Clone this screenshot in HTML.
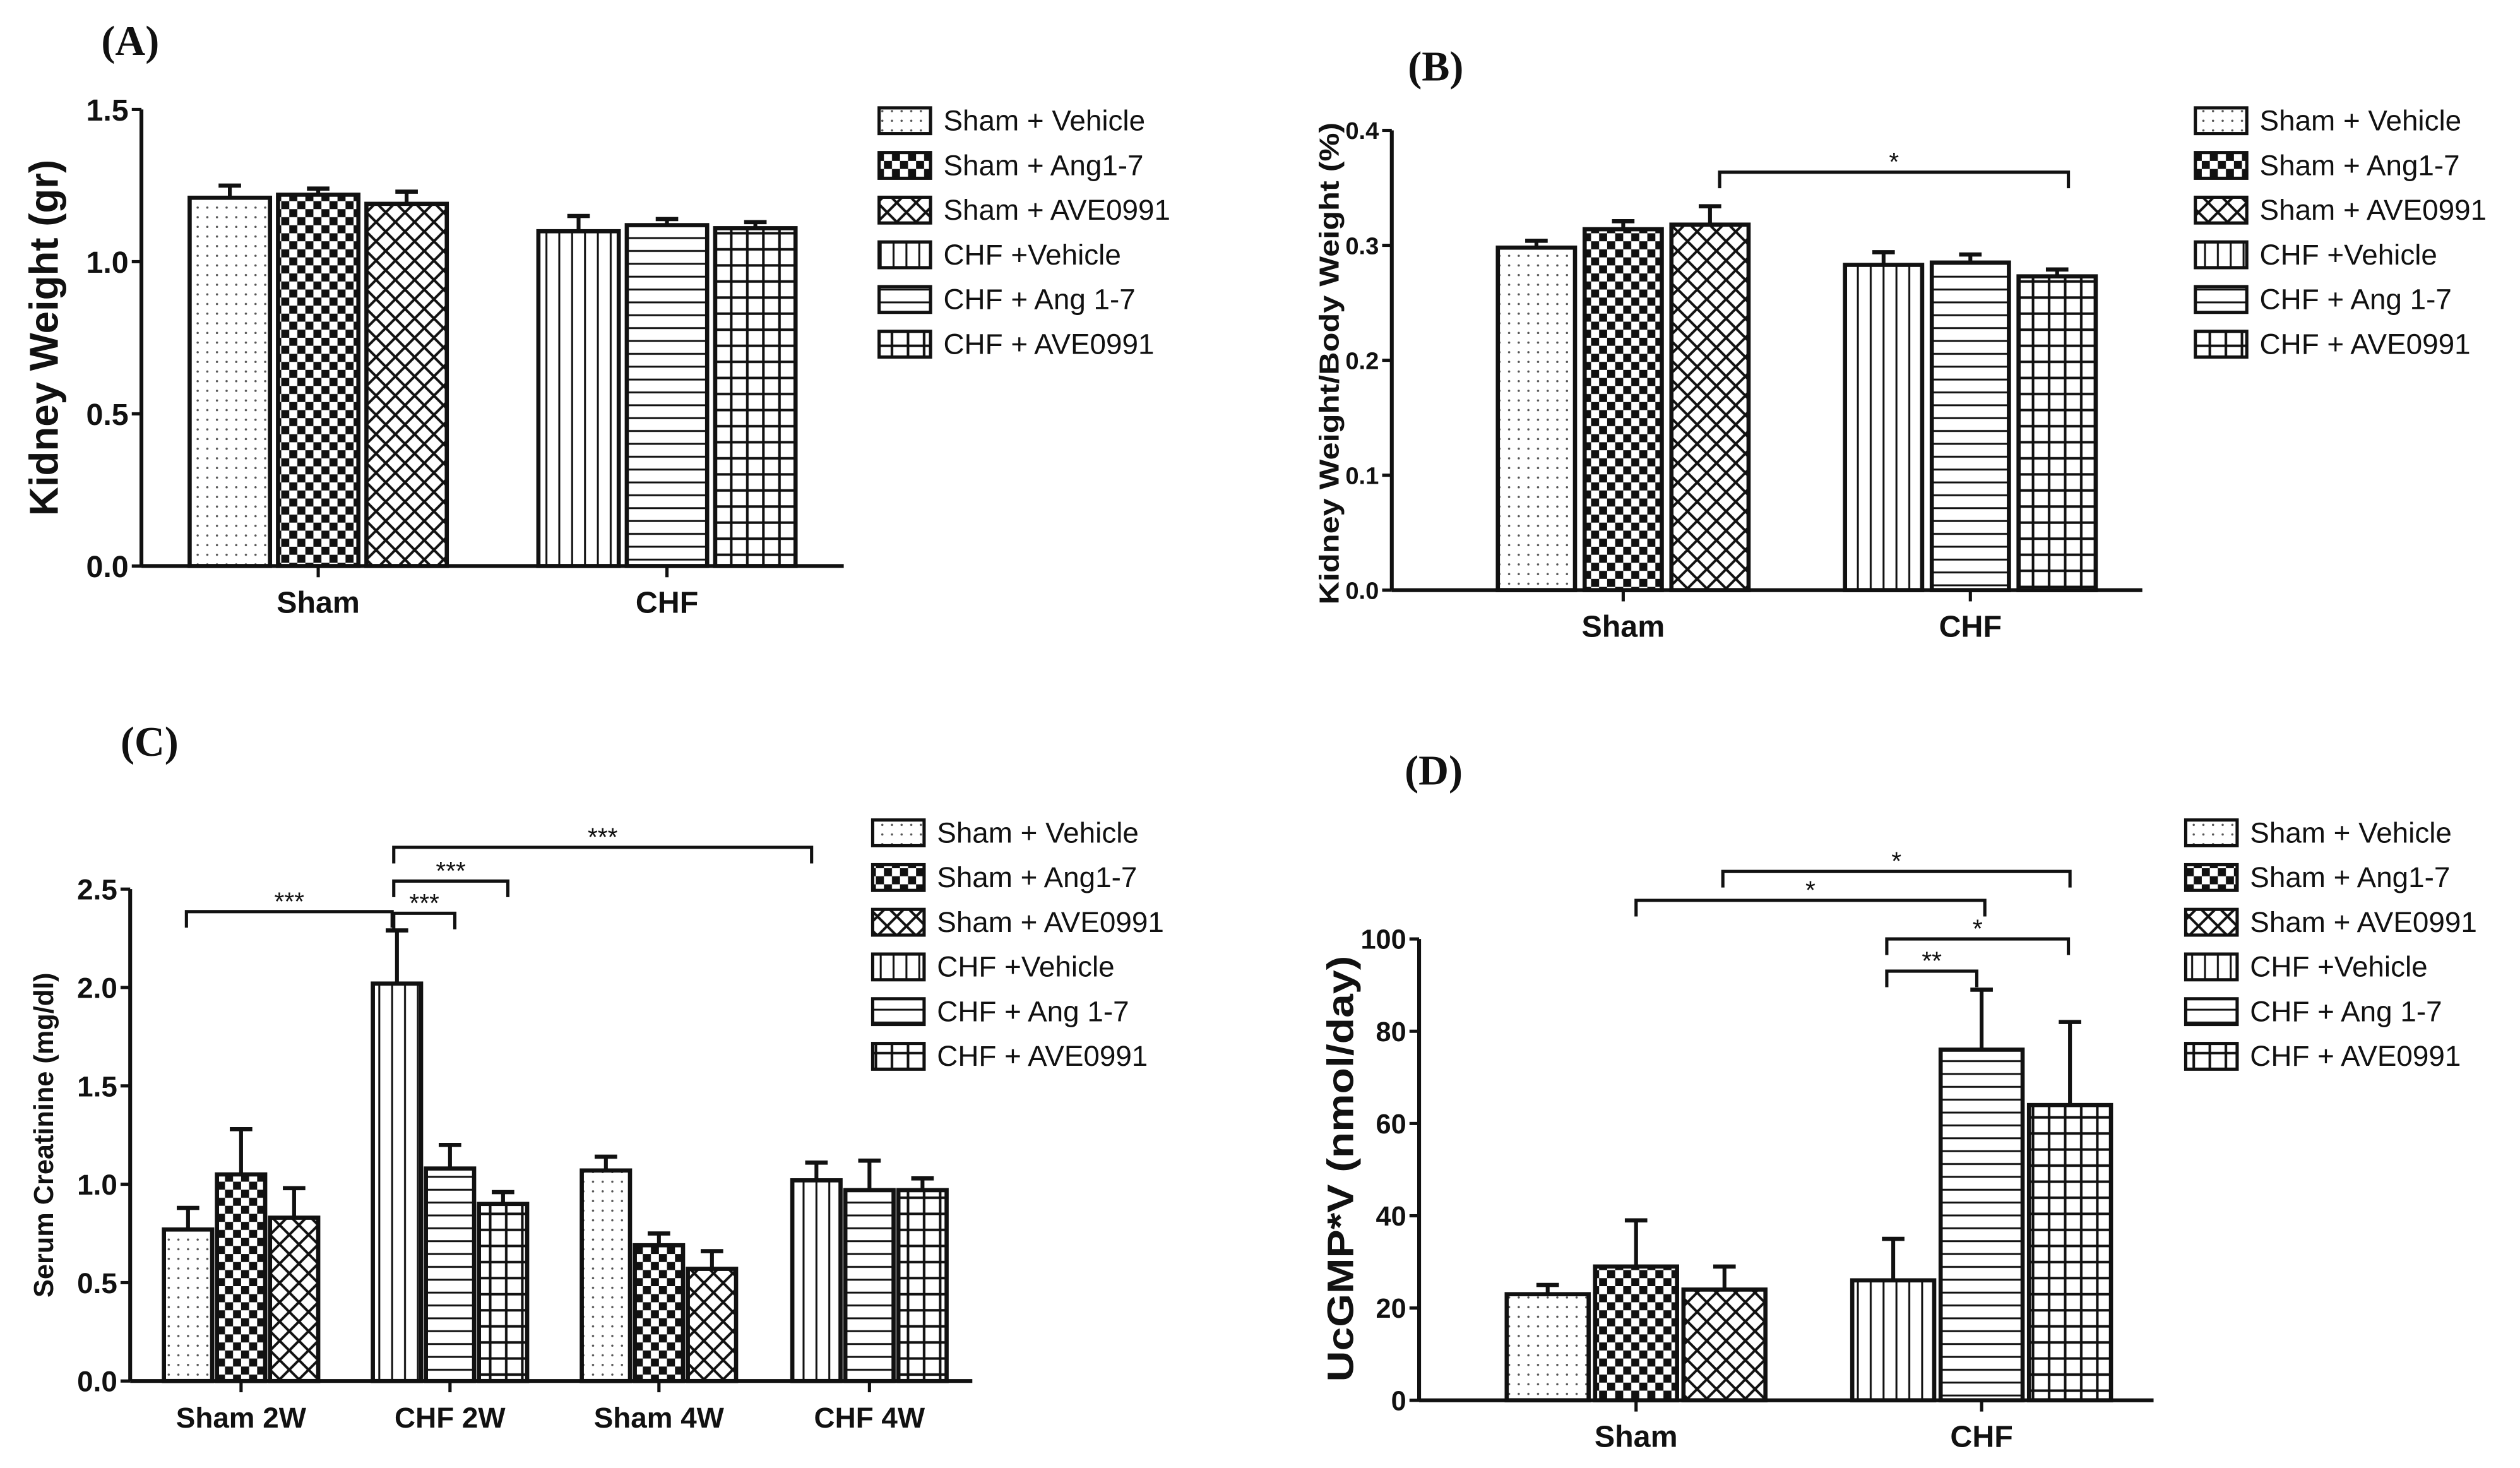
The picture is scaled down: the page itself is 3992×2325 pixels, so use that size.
<!DOCTYPE html>
<html><head><meta charset="utf-8">
<style>
html,body{margin:0;padding:0;background:#fff;}
svg{display:block;}
text{font-family:"Liberation Sans",Arial,sans-serif;fill:#111;}
.pl{font-family:"Liberation Serif",serif;font-size:26px;}
</style></head>
<body>
<svg id="fig" xmlns="http://www.w3.org/2000/svg" width="3992" height="2325" viewBox="0 0 1568 913">
<defs>
 <pattern id="p0" patternUnits="userSpaceOnUse" width="6" height="6"><rect width="6" height="6" fill="#fff"/><circle cx="3" cy="3" r="0.7" fill="#555"/></pattern>
 <pattern id="p1" patternUnits="userSpaceOnUse" width="10" height="10"><rect width="10" height="10" fill="#fff"/><rect width="5" height="5" fill="#111"/><rect x="5" y="5" width="5" height="5" fill="#111"/></pattern>
 <pattern id="p2" patternUnits="userSpaceOnUse" width="12" height="12"><rect width="12" height="12" fill="#fff"/><path d="M0 0L12 12M12 0L0 12" stroke="#111" stroke-width="1.6"/></pattern>
 <pattern id="p3" patternUnits="userSpaceOnUse" width="8" height="8"><rect width="8" height="8" fill="#fff"/><path d="M4 0V8" stroke="#111" stroke-width="1.2"/></pattern>
 <pattern id="p4" patternUnits="userSpaceOnUse" width="8" height="8"><rect width="8" height="8" fill="#fff"/><path d="M0 4H8" stroke="#111" stroke-width="1.2"/></pattern>
 <pattern id="p5" patternUnits="userSpaceOnUse" width="10" height="10"><rect width="10" height="10" fill="#fff"/><path d="M5 0V10M0 5H10" stroke="#111" stroke-width="1.6"/></pattern>
</defs>
<rect width="1568" height="913" fill="#fff"/>
<g id="root"></g>
</svg>
<script>
// ---- data ----
const seriesNames = ["Sham + Vehicle","Sham + Ang1-7","Sham + AVE0991","CHF +Vehicle","CHF + Ang 1-7","CHF + AVE0991"];
const catsA = ["Sham","CHF"];
const valsA = [1.21,1.22,1.19,1.10,1.12,1.11];
const errA  = [0.04,0.02,0.04,0.05,0.02,0.02];
const ticksA = ["0.0","0.5","1.0","1.5"];
const catsB = ["Sham","CHF"];
const valsB = [0.298,0.314,0.318,0.283,0.285,0.273];
const errB  = [0.006,0.007,0.016,0.011,0.007,0.006];
const ticksB = ["0.0","0.1","0.2","0.3","0.4"];
const catsC = ["Sham 2W","CHF 2W","Sham 4W","CHF 4W"];
const valsC = [0.77,1.05,0.83, 2.02,1.08,0.90, 1.07,0.69,0.57, 1.02,0.97,0.97];
const errC  = [0.11,0.23,0.15, 0.27,0.12,0.06, 0.07,0.06,0.09, 0.09,0.15,0.06];
const patC  = [0,1,2, 3,4,5, 0,1,2, 3,4,5];
const ticksC = ["0.0","0.5","1.0","1.5","2.0","2.5"];
const catsD = ["Sham","CHF"];
const valsD = [23,29,24,26,76,64];
const errD  = [2,10,5,9,13,18];
const ticksD = ["0","20","40","60","80","100"];

const NS="http://www.w3.org/2000/svg";
const root=document.getElementById('root');
function el(tag,attrs,parent,txt){const e=document.createElementNS(NS,tag);for(const k in attrs)e.setAttribute(k,attrs[k]);if(txt!==undefined)e.textContent=txt;(parent||root).appendChild(e);return e;}

function panel(o){
  const g=el('g',{});
  
  
  const y=v=>o.y0-(v/o.max)*(o.y0-o.yTop);
  const ax=el('line',{x1:o.ax,y1:o.yTop,x2:o.ax,y2:o.y0,stroke:'#111','stroke-width':2.4},g);
  
  
  o.ticks.forEach((t,i)=>{
    const v=o.max*i/(o.ticks.length-1);
    el('line',{x1:o.ax-6,y1:y(v),x2:o.ax,y2:y(v),stroke:'#111','stroke-width':2},g);
    const tl=el('text',{x:o.ax-8,y:y(v)+o.tfs*0.36,'text-anchor':'end','font-size':o.tfs,'font-weight':'bold'},g,t);
    
    
  });
  const xa=el('line',{x1:o.ax,y1:o.y0,x2:o.xEnd,y2:o.y0,stroke:'#111','stroke-width':2.4},g);
  
  
  o.cats.forEach((c,ci)=>{
    const cx=o.centers[ci];
    el('line',{x1:cx,y1:o.y0,x2:cx,y2:o.y0+7,stroke:'#111','stroke-width':2},g);
    const cl=el('text',{x:cx,y:o.y0+29,'text-anchor':'middle','font-size':o.cfs,'font-weight':'bold'},g,c);
    
    
    for(let k=0;k<3;k++){
      const i=ci*3+k;
      const x=cx+(k-1)*(o.bw+o.gap)-o.bw/2;
      const v=o.vals[i], e=o.errs[i];
      const pat=o.pats?o.pats[i]:i;
      el('line',{x1:x+o.bw/2,y1:y(v),x2:x+o.bw/2,y2:y(v+e),stroke:'#111','stroke-width':2.4},g);
      el('line',{x1:x+o.bw/2-7,y1:y(v+e),x2:x+o.bw/2+7,y2:y(v+e),stroke:'#111','stroke-width':2.6},g);
      const b=el('rect',{x:x,y:y(v),width:o.bw,height:o.y0-y(v),fill:'url(#p'+pat+')',stroke:'#111','stroke-width':2.6},g);
      
      
    }
  });
  const yt=el('text',{x:o.ytx,y:o.ytY,'text-anchor':'middle','font-size':o.yfs,'font-weight':'bold',transform:`rotate(-90 ${o.ytx} ${o.ytY})`},g,o.ytitle);
  if(o.ytLen){yt.setAttribute('textLength',o.ytLen);yt.setAttribute('lengthAdjust','spacingAndGlyphs');}
  
  
  const pl=el('text',{x:o.lx,y:o.ly,class:'pl','font-weight':'bold'},g,o.label);
  
  
  seriesNames.forEach((s,i)=>{
    const ry=o.legY+i*27.8;
    const lg=el('g',{},g);
    
    
    el('rect',{x:o.legX,y:ry-8,width:32,height:16,fill:'url(#p'+i+')',stroke:'#111','stroke-width':2},lg);
    el('text',{x:o.legX+40,y:ry+6,'font-size':18},lg,s);
  });
  (o.sig||[]).forEach(s=>{
    const sg=el('g',{},g);
    
    
    el('path',{d:`M${s[0]} ${s[2]+10}V${s[2]}H${s[1]}V${s[2]+10}`,fill:'none',stroke:'#111','stroke-width':2},sg);
    el('text',{x:(s[0]+s[1])/2,y:s[2]-1,'text-anchor':'middle','font-size':16},sg,s[3]);
  });
}

panel({name:'panel-a',label:'(A)',lx:63,ly:34,ax:88,y0:352,yTop:68,max:1.5,ticks:ticksA,tfs:19,cfs:19,xEnd:525,
  cats:catsA,centers:[198,415],vals:valsA,errs:errA,bw:50,gap:5,
  ytitle:'Kidney Weight (gr)',ytx:36,ytY:210,yfs:25,legX:547,legY:75});
panel({name:'panel-b',label:'(B)',lx:876,ly:50,ax:866,y0:367,yTop:81,max:0.4,ticks:ticksB,tfs:15,cfs:19,xEnd:1333,
  cats:catsB,centers:[1010,1226],vals:valsB,errs:errB,bw:48,gap:6,
  ytitle:'Kidney Weight/Body Weight (%)',ytx:833,ytY:226,yfs:17,ytLen:300,legX:1366,legY:75,
  sig:[[1070,1287,107,'*']]});
panel({name:'panel-c',label:'(C)',lx:75,ly:470,ax:81,y0:859,yTop:553,max:2.5,ticks:ticksC,tfs:18,cfs:18,xEnd:605,
  cats:catsC,centers:[150,280,410,541],vals:valsC,errs:errC,pats:patC,bw:30,gap:3,
  ytitle:'Serum  Creatinine  (mg/dl)',ytx:33,ytY:706,yfs:17,legX:543,legY:518,
  sig:[[116,244,567,'***'],[245,505,527,'***'],[245,316,548,'***'],[245,283,568,'***']]});
panel({name:'panel-d',label:'(D)',lx:874,ly:488,ax:883,y0:871,yTop:584,max:100,ticks:ticksD,tfs:17,cfs:19,xEnd:1340,
  cats:catsD,centers:[1018,1233],vals:valsD,errs:errD,bw:51,gap:4,
  ytitle:'UcGMP*V (nmol/day)',ytx:842,ytY:727,yfs:23,ytLen:265,legX:1360,legY:518,
  sig:[[1072,1288,542,'*'],[1018,1235,560,'*'],[1174,1287,584,'*'],[1174,1230,604,'**']]});
</script>
</body></html>
